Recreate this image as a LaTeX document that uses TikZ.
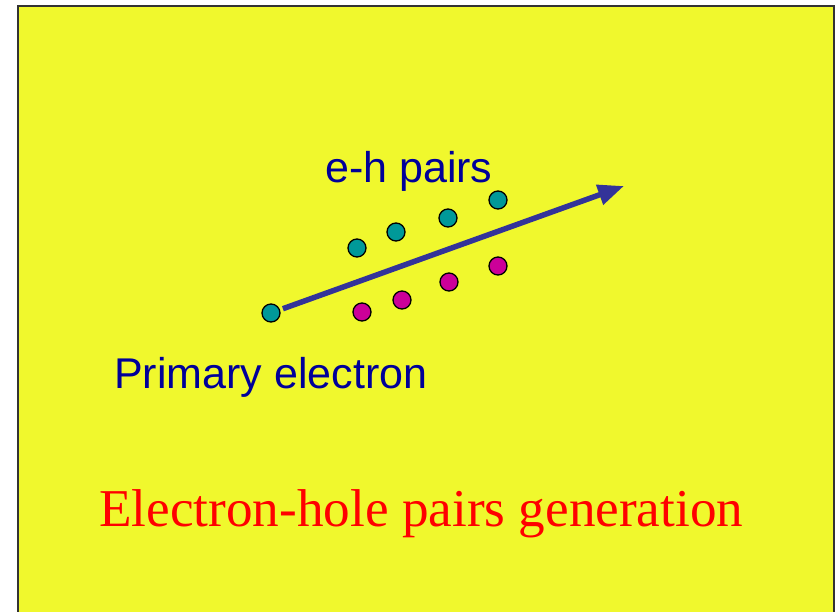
\documentclass[tikz,border=0pt]{standalone}
\usepackage{fontspec}
\setmainfont{Liberation Serif}
\setsansfont{Liberation Sans}
\usepackage{tikz}
\usetikzlibrary{arrows.meta}

\definecolor{slideyellow}{RGB}{240,248,45}
\definecolor{labelblue}{RGB}{0,0,153}
\definecolor{arrowblue}{RGB}{51,51,153}
\definecolor{electroncol}{RGB}{0,153,153}
\definecolor{holecol}{RGB}{204,0,153}

\tikzset{
  carrier/.style={circle, draw=black, line width=1.3pt, minimum size=18pt, inner sep=0pt},
  electron/.style={carrier, fill=electroncol},
  hole/.style={carrier, fill=holecol},
  label/.style={anchor=base west, inner sep=0pt, font=\sffamily\fontsize{43}{43}\selectfont, text=labelblue}
}

\begin{document}
\begin{tikzpicture}[x=1pt, y=-1pt] % one unit is one pixel of the slide
      \useasboundingbox (0,0) rectangle (838,611);

      % Slide background
      \fill[white] (0,0) rectangle (838,611);
      \draw[black!80, line width=1.8pt, fill=slideyellow] (18,6) rectangle (834,640);

      % Primary electron and the end of its track
      \node[electron] (prim) at (271,313) {};
      \coordinate (tip) at (624,186);

      % Electrons (above the track)
      \node[electron] (e1) at (357,248) {};
      \node[electron] (e2) at (396,232) {};
      \node[electron] (e3) at (448,218) {};
      \node[electron] (e4) at (498,200) {};

      % Holes (below the track)
      \node[hole] (h1) at (362,312) {};
      \node[hole] (h2) at (402,300) {};
      \node[hole] (h3) at (449,282) {};
      \node[hole] (h4) at (498,266) {};

      % Track of the primary electron
      \draw[arrowblue, line width=5.5pt, shorten <=3pt, -{Triangle[length=26pt, width=20pt]}] (prim) -- (tip);

      % Labels
      \node[label] (pairs) at (325,182) {e-h pairs};
      \node[label] (primlabel) at (114,388) {Primary electron};
      \node[anchor=base west, inner sep=0pt, text=red, font=\rmfamily\fontsize{53.2}{53.2}\selectfont] (title) at (99,526) {Electron-hole pairs generation};

\end{tikzpicture}
\end{document}
